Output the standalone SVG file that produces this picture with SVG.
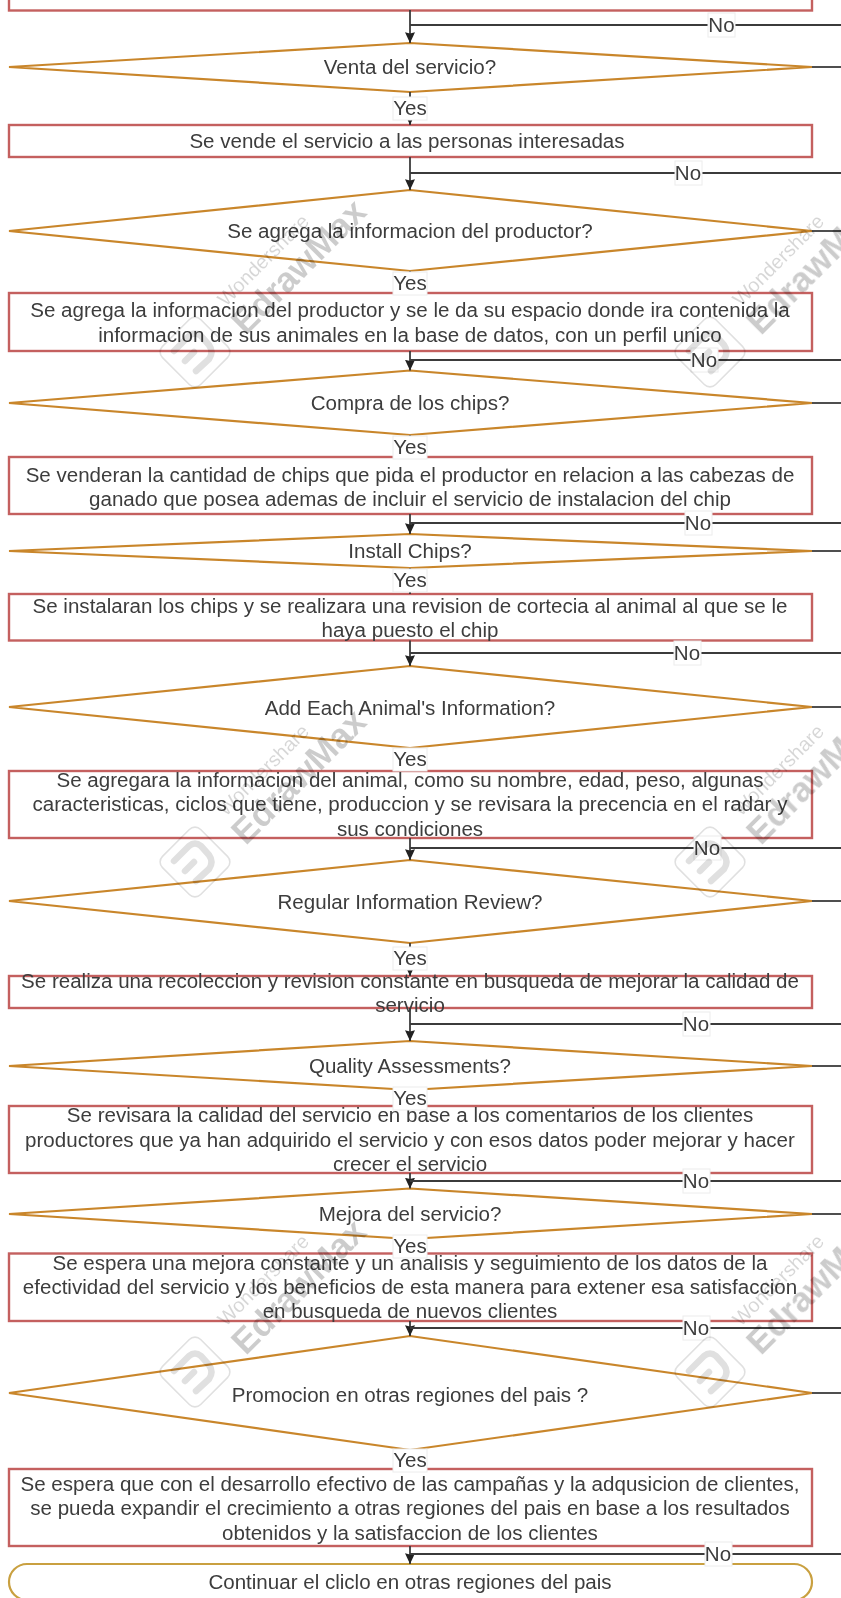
<svg xmlns="http://www.w3.org/2000/svg" xmlns:xlink="http://www.w3.org/1999/xlink" width="841" height="1598" viewBox="0 0 841 1598">
<style>
text{font-family:"Liberation Sans",Arial,sans-serif;font-size:20.55px;fill:#3c3c3c;text-anchor:middle}
.r{fill:#fff;stroke:#c4605f;stroke-width:2.4}
.d{fill:#fff;stroke:#c9862c;stroke-width:2.2}
.t{fill:#fff;stroke:#c9a040;stroke-width:2.2}
.c{fill:none;stroke:#3a3a3a;stroke-width:1.8}
.a{marker-end:url(#arr)}
.lb{fill:#fff;stroke:#ececec;stroke-width:1}
.wm1{font-size:20px;fill:#000;fill-opacity:.16;font-weight:400}
.wm2{font-size:35px;fill:#000;fill-opacity:.2;font-weight:700}
.ic{fill:none;stroke:#000;stroke-opacity:.12;stroke-width:1.6}
.ic2{fill:none;stroke:#000;stroke-opacity:.12;stroke-width:6.5;stroke-linecap:round;stroke-linejoin:round}
</style>
<defs>
<marker id="arr" viewBox="0 0 11 11" refX="11" refY="5.5" markerWidth="11" markerHeight="11" markerUnits="userSpaceOnUse" orient="auto"><path d="M0.3,0.5 L11,5.5 L0.3,10.5 L1.5,5.5 z" fill="#222"/></marker>
<filter id="soft" x="-2%" y="-2%" width="104%" height="104%"><feGaussianBlur stdDeviation="0.35"/></filter>
<g id="wm">
<rect x="-27" y="-27" width="54" height="54" rx="8" class="ic" transform="rotate(45)"/>
<path d="M-21,-1 L-6,-16 Q0,-21 6,-16 L14,-7 Q19,0 14,7 L1,19" class="ic2"/>
<path d="M-10,9 L-1,0" class="ic2"/>
<text class="wm1" transform="translate(73,-87) rotate(-45)">Wondershare</text>
<text class="wm2" transform="translate(112,-77) rotate(-45)">EdrawMax</text>
</g>
</defs>
<g filter="url(#soft)">
<g id="nodes">
<g id="n0"><rect class="r" x="9" y="-20" width="803" height="30.5"/></g>
<g id="n1"><polygon class="d" points="410,43 812,67 410,92 9,67"/><text x="410" y="74">Venta del servicio?</text></g>
<g id="n2"><rect class="r" x="9" y="125" width="803" height="32"/><text x="407" y="148">Se vende el servicio a las personas interesadas</text></g>
<g id="n3"><polygon class="d" points="410,190 812,231 410,271 9,231"/><text x="410" y="238">Se agrega la informacion del productor?</text></g>
<g id="n4"><rect class="r" x="9" y="293" width="803" height="58"/><text x="410" y="317">Se agrega la informacion del productor y se le da su espacio donde ira contenida la</text><text x="410" y="342">informacion de sus animales en la base de datos, con un perfil unico</text></g>
<g id="n5"><polygon class="d" points="410,370.5 812,403 410,435 9,403"/><text x="410" y="410">Compra de los chips?</text></g>
<g id="n6"><rect class="r" x="9" y="457" width="803" height="57"/><text x="410" y="482">Se venderan la cantidad de chips que pida el productor en relacion a las cabezas de</text><text x="410" y="506">ganado que posea ademas de incluir el servicio de instalacion del chip</text></g>
<g id="n7"><polygon class="d" points="410,534 812,551 410,568 9,551"/><text x="410" y="558">Install Chips?</text></g>
<g id="n8"><rect class="r" x="9" y="594" width="803" height="46.5"/><text x="410" y="613">Se instalaran los chips y se realizara una revision de cortecia al animal al que se le</text><text x="410" y="637">haya puesto el chip</text></g>
<g id="n9"><polygon class="d" points="410,666 812,707 410,748 9,707"/><text x="410" y="715">Add Each Animal's Information?</text></g>
<g id="n10"><rect class="r" x="9" y="771" width="803" height="67"/><text x="410" y="787">Se agregara la informacion del animal, como su nombre, edad, peso, algunas</text><text x="410" y="811">caracteristicas, ciclos que tiene, produccion y se revisara la precencia en el radar y</text><text x="410" y="836">sus condiciones</text></g>
<g id="n11"><polygon class="d" points="410,860 812,901 410,943 9,901"/><text x="410" y="909">Regular Information Review?</text></g>
<g id="n12"><rect class="r" x="9" y="976" width="803" height="32"/><text x="410" y="988">Se realiza una recoleccion y revision constante en busqueda de mejorar la calidad de</text><text x="410" y="1012">servicio</text></g>
<g id="n13"><polygon class="d" points="410,1041 812,1066 410,1090 9,1066"/><text x="410" y="1073">Quality Assessments?</text></g>
<g id="n14"><rect class="r" x="9" y="1106" width="803" height="67"/><text x="410" y="1122">Se revisara la calidad del servicio en base a los comentarios de los clientes</text><text x="410" y="1147">productores que ya han adquirido el servicio y con esos datos poder mejorar y hacer</text><text x="410" y="1171">crecer el servicio</text></g>
<g id="n15"><polygon class="d" points="410,1188.5 812,1214 410,1239 9,1214"/><text x="410" y="1221">Mejora del servicio?</text></g>
<g id="n16"><rect class="r" x="9" y="1253.5" width="803" height="67.5"/><text x="410" y="1270">Se espera una mejora constante y un analisis y seguimiento de los datos de la</text><text x="410" y="1294">efectividad del servicio y los beneficios de esta manera para extener esa satisfaccion</text><text x="410" y="1318">en busqueda de nuevos clientes</text></g>
<g id="n17"><polygon class="d" points="410,1336 812,1393 410,1450 9,1393"/><text x="410" y="1402">Promocion en otras regiones del pais ?</text></g>
<g id="n18"><rect class="r" x="9" y="1469" width="803" height="77"/><text x="410" y="1491">Se espera que con el desarrollo efectivo de las campañas y la adqusicion de clientes,</text><text x="410" y="1515">se pueda expandir el crecimiento a otras regiones del pais en base a los resultados</text><text x="410" y="1540">obtenidos y la satisfaccion de los clientes</text></g>
<g id="n19"><rect class="t" x="9" y="1564" width="803" height="36" rx="18"/><text x="410" y="1589">Continuar el cliclo en otras regiones del pais</text></g>
</g>
<g id="connectors">
<path class="c a" d="M410,10 V43"/><path class="c" d="M410,25 H841"/><path class="c" d="M812,67 H841"/>
<path class="c a" d="M410,92 V125"/>
<path class="c a" d="M410,157 V190"/><path class="c" d="M410,173 H841"/><path class="c" d="M812,231 H841"/>
<path class="c a" d="M410,271 V293"/>
<path class="c a" d="M410,351 V370.5"/><path class="c" d="M410,360 H841"/><path class="c" d="M812,403 H841"/>
<path class="c a" d="M410,435 V457"/>
<path class="c a" d="M410,514 V534"/><path class="c" d="M410,523 H841"/><path class="c" d="M812,551 H841"/>
<path class="c a" d="M410,568 V594"/>
<path class="c a" d="M410,640.5 V666"/><path class="c" d="M410,653 H841"/><path class="c" d="M812,707 H841"/>
<path class="c a" d="M410,748 V771"/>
<path class="c a" d="M410,838 V860"/><path class="c" d="M410,848 H841"/><path class="c" d="M812,901 H841"/>
<path class="c a" d="M410,943 V976"/>
<path class="c a" d="M410,1008 V1041"/><path class="c" d="M410,1024 H841"/><path class="c" d="M812,1066 H841"/>
<path class="c a" d="M410,1090 V1106"/>
<path class="c a" d="M410,1173 V1188.5"/><path class="c" d="M410,1181 H841"/><path class="c" d="M812,1214 H841"/>
<path class="c a" d="M410,1239 V1253.5"/>
<path class="c a" d="M410,1321 V1336"/><path class="c" d="M410,1328 H841"/><path class="c" d="M812,1393 H841"/>
<path class="c a" d="M410,1450 V1469"/>
<path class="c a" d="M410,1546 V1564"/><path class="c" d="M410,1554 H841"/>
<g id="edge-labels">
<g><rect class="lb" x="708" y="13" width="27" height="24"/><text x="721.500" y="32">No</text></g>
<g><rect class="lb" x="393" y="97" width="34" height="23"/><text x="410" y="115">Yes</text></g>
<g><rect class="lb" x="675" y="161" width="27" height="24"/><text x="688" y="180">No</text></g>
<g><rect class="lb" x="393" y="272" width="34" height="23"/><text x="410" y="290">Yes</text></g>
<g><rect class="lb" x="691" y="348" width="27" height="24"/><text x="704" y="367">No</text></g>
<g><rect class="lb" x="393" y="436" width="34" height="23"/><text x="410" y="454">Yes</text></g>
<g><rect class="lb" x="685" y="511" width="27" height="24"/><text x="698" y="530">No</text></g>
<g><rect class="lb" x="393" y="569" width="34" height="23"/><text x="410" y="587">Yes</text></g>
<g><rect class="lb" x="674" y="641" width="27" height="24"/><text x="687" y="660">No</text></g>
<g><rect class="lb" x="393" y="748" width="34" height="23"/><text x="410" y="766">Yes</text></g>
<g><rect class="lb" x="694" y="836" width="27" height="24"/><text x="707" y="855">No</text></g>
<g><rect class="lb" x="393" y="947" width="34" height="23"/><text x="410" y="965">Yes</text></g>
<g><rect class="lb" x="683" y="1012" width="27" height="24"/><text x="696" y="1031">No</text></g>
<g><rect class="lb" x="393" y="1087" width="34" height="23"/><text x="410" y="1105">Yes</text></g>
<g><rect class="lb" x="683" y="1169" width="27" height="24"/><text x="696" y="1188">No</text></g>
<g><rect class="lb" x="393" y="1235" width="34" height="23"/><text x="410" y="1253">Yes</text></g>
<g><rect class="lb" x="683" y="1316" width="27" height="24"/><text x="696" y="1335">No</text></g>
<g><rect class="lb" x="393" y="1449" width="34" height="23"/><text x="410" y="1467">Yes</text></g>
<g><rect class="lb" x="705" y="1542" width="27" height="24"/><text x="718" y="1561">No</text></g>
</g>
</g>
<g id="watermarks">
<use xlink:href="#wm" href="#wm" x="195" y="352"/>
<use xlink:href="#wm" href="#wm" x="710" y="352"/>
<use xlink:href="#wm" href="#wm" x="195" y="862"/>
<use xlink:href="#wm" href="#wm" x="710" y="862"/>
<use xlink:href="#wm" href="#wm" x="195" y="1372"/>
<use xlink:href="#wm" href="#wm" x="710" y="1372"/>
</g>
</g>
</svg>
